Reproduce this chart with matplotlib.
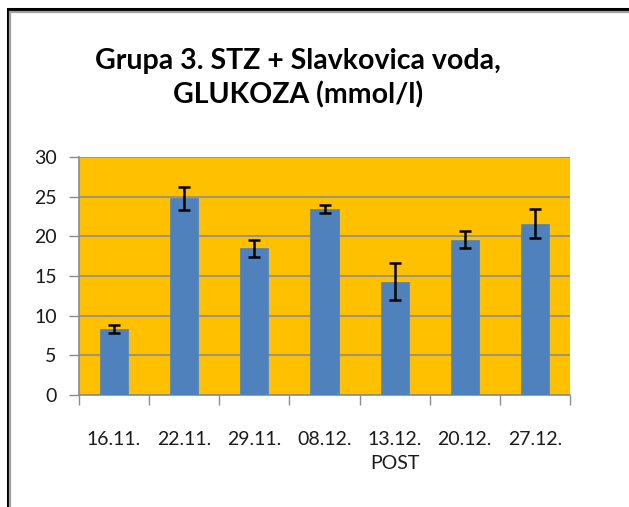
import matplotlib
matplotlib.use("Agg")
import matplotlib.pyplot as plt
from matplotlib.patches import Rectangle

# Data
dates = ["16.11.", "22.11.", "29.11.", "08.12.", "13.12.\nPOST", "20.12.", "27.12."]
glucose = [8.3, 24.8, 18.5, 23.45, 14.3, 19.6, 21.6]
sd = [0.5, 1.45, 1.05, 0.45, 2.3, 1.05, 1.85]

plt.rcParams["font.family"] = ["Lato", "DejaVu Sans"]

fig = plt.figure(figsize=(6.29, 5.07), dpi=100)
ax = fig.add_axes([79 / 629, 1 - 395 / 507, (570 - 79) / 629, (395 - 157) / 507])

# outer frame (black line with grey inner line)
fig.patches.append(Rectangle((7.5 / 629, -0.1), 1.2, 1 - 9 / 507 + 0.1,
                             transform=fig.transFigure, fill=False,
                             edgecolor="black", linewidth=2.2, zorder=10))
fig.patches.append(Rectangle((10 / 629, -0.1), 1.2, 1 - 11.5 / 507 + 0.1,
                             transform=fig.transFigure, fill=False,
                             edgecolor="#a0a0a0", linewidth=1.6, zorder=10))

x = range(len(dates))
ax.set_facecolor("#FFC000")
ax.bar(x, glucose, width=0.4, color="#4F81BD", edgecolor="#5a86bb",
       linewidth=0.6, zorder=3)
ax.errorbar(x, glucose, yerr=sd, fmt="none", ecolor="black",
            elinewidth=1.8, capsize=4, capthick=1.8, zorder=4)

ax.set_xlim(-0.5, len(dates) - 0.5)
ax.set_ylim(0, 30)
ax.set_yticks(range(0, 31, 5))
ax.yaxis.grid(True, color="#8c8c8c", linewidth=1.2, zorder=1)
ax.set_axisbelow(True)

ax.set_xticks([i + 0.5 for i in range(-1, len(dates))], minor=False)
ax.set_xticklabels([])
ax.set_xticks(list(x), minor=True)
ax.set_xticklabels(dates, minor=True, fontsize=14, color="#1a1a1a",
                   linespacing=1.5)
ax.tick_params(axis="x", which="major", length=7, color="#8c8c8c", width=1)
ax.tick_params(axis="x", which="minor", length=0, pad=26)
ax.tick_params(axis="y", length=7, color="#8c8c8c", width=1,
               labelsize=14, labelcolor="#1a1a1a", pad=9)

for s in ["top", "right"]:
    ax.spines[s].set_visible(False)
for s in ["left", "bottom"]:
    ax.spines[s].set_color("#8c8c8c")
    ax.spines[s].set_linewidth(1.2)

fig.text(298 / 629, 1 - 78 / 507, "Grupa 3. STZ + Slavkovica voda,\nGLUKOZA (mmol/l)",
         ha="center", va="center", fontsize=20.5, fontweight="bold",
         linespacing=1.35, color="black")

fig.savefig("out.png", dpi=100, facecolor="white")
